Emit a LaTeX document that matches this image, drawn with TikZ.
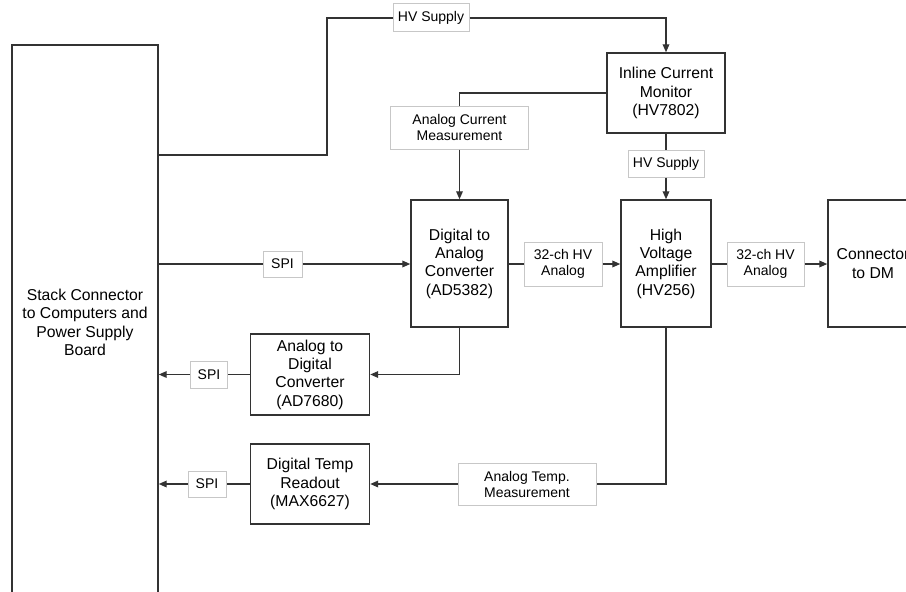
\documentclass[tikz,border=0pt]{standalone}
\usepackage{fontspec}
\setmainfont{Liberation Sans}
\usetikzlibrary{arrows.meta}

\begin{document}
\begin{tikzpicture}[x=0.75pt,y=-0.75pt]
      \tikzset{block/.style={draw=black!80, line width=1.1pt, fill=white, align=center, inner sep=0pt, font={\fontsize{11.8}{13.75}\selectfont}}, tag/.style={draw=black!22, line width=0.75pt, fill=white, align=center, inner sep=0pt, font={\fontsize{10.5}{12}\selectfont}}, wire/.style={draw=black!80, line width=1pt, >={Triangle[length=6pt,width=5pt]}}}
      \useasboundingbox (0,0) rectangle (906,592);
      \clip (0,0) rectangle (906,592);
      \node[block, minimum width=109.5pt, minimum height=416.25pt] (stack) at (85,322.5) {Stack Connector\\to Computers and\\Power Supply\\Board};
      \node[block, minimum width=88.5pt, minimum height=60pt] (icm) at (666,93) {Inline Current\\Monitor\\(HV7802)};
      \node[block, minimum width=72.75pt, minimum height=95.25pt] (dac) at (459.5,263.5) {Digital to\\Analog\\Converter\\(AD5382)};
      \node[block, minimum width=67.5pt, minimum height=95.25pt] (hva) at (666,263.5) {High\\Voltage\\Amplifier\\(HV256)};
      \node[block, minimum width=67.5pt, minimum height=95.25pt] (dm) at (873,263.5) {Connector\\to DM};
      \node[block, minimum width=89.25pt, minimum height=60.75pt] (adc) at (310,374.5) {Analog to\\Digital\\Converter\\(AD7680)};
      \node[block, minimum width=89.25pt, minimum height=60pt] (dtr) at (310,484) {Digital Temp\\Readout\\(MAX6627)};
      \node[tag, minimum width=57pt, minimum height=21pt] (hvtop) at (431,18) {HV Supply};
      \node[tag, minimum width=103.5pt, minimum height=32.25pt] (acm) at (459.5,127.5) {Analog Current\\Measurement};
      \node[tag, minimum width=57pt, minimum height=20.25pt] (hvmid) at (666,163.5) {HV Supply};
      \node[tag, minimum width=58.5pt, minimum height=33pt] (ch1) at (563,264) {32-ch HV\\Analog};
      \node[tag, minimum width=57.75pt, minimum height=33pt] (ch2) at (765.5,264) {32-ch HV\\Analog};
      \node[tag, minimum width=29.25pt, minimum height=19.5pt] (spi1) at (282.5,264) {SPI};
      \node[tag, minimum width=27.75pt, minimum height=20.25pt] (spi2) at (209,374.5) {SPI};
      \node[tag, minimum width=28.5pt, minimum height=19.5pt] (spi3) at (207,484) {SPI};
      \node[tag, minimum width=103.5pt, minimum height=31.5pt] (atm) at (527,484) {Analog Temp.\\Measurement};
      \coordinate (hvbend) at (327,155);
      \draw[wire] (hvbend -| stack.east) -- (hvbend) |- (hvtop.west);
      \draw[wire, ->] (hvtop.east) -| (icm.north);
      \draw[wire] (icm.west) -| (acm.north);
      \draw[wire, ->] (acm.south) -- (dac.north);
      \draw[wire] (icm.south) -- (hvmid.north);
      \draw[wire, ->] (hvmid.south) -- (hva.north);
      \draw[wire] (spi1 -| stack.east) -- (spi1.west);
      \draw[wire, ->] (spi1.east) -- (spi1 -| dac.west);
      \draw[wire] (dac.east |- ch1) -- (ch1.west);
      \draw[wire, ->] (ch1.east) -- (ch1 -| hva.west);
      \draw[wire] (hva.east |- ch2) -- (ch2.west);
      \draw[wire, ->] (ch2.east) -- (ch2 -| dm.west);
      \draw[wire, ->] (dac.south) |- (adc.east);
      \draw[wire] (adc.west) -- (spi2.east);
      \draw[wire, ->] (spi2.west) -- (spi2 -| stack.east);
      \draw[wire] (hva.south) |- (atm.east);
      \draw[wire, ->] (atm.west) -- (dtr.east);
      \draw[wire] (dtr.west) -- (spi3.east);
      \draw[wire, ->] (spi3.west) -- (spi3 -| stack.east);
    \end{tikzpicture}
\end{document}
